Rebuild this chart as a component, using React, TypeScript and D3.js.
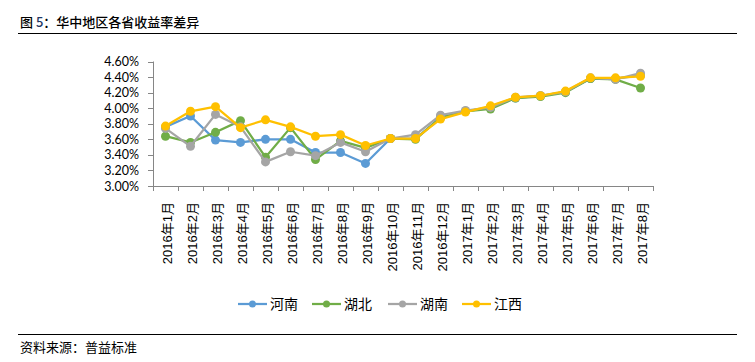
import React from "react";
import * as d3 from "d3";

const categories = [
  "2016年1月","2016年2月","2016年3月","2016年4月","2016年5月","2016年6月","2016年7月","2016年8月","2016年9月","2016年10月",
  "2016年11月","2016年12月","2017年1月","2017年2月","2017年3月","2017年4月","2017年5月","2017年6月","2017年7月","2017年8月",
];
const henan = [3.76,3.90,3.59,3.56,3.60,3.60,3.43,3.43,3.29,3.61,3.61,3.88,3.96,4.01,4.13,4.16,4.21,4.38,4.38,4.42];
const hubei = [3.64,3.56,3.69,3.84,3.37,3.75,3.34,3.58,3.49,3.61,3.60,3.88,3.96,3.99,4.13,4.15,4.20,4.38,4.37,4.26];
const hunan = [3.74,3.51,3.92,3.76,3.31,3.44,3.39,3.56,3.44,3.61,3.66,3.91,3.97,4.01,4.14,4.16,4.21,4.39,4.37,4.45];
const jiangxi = [3.77,3.96,4.02,3.75,3.85,3.76,3.64,3.66,3.52,3.61,3.61,3.86,3.95,4.03,4.14,4.16,4.22,4.39,4.39,4.41];
const yTicks = [3.0,3.2,3.4,3.6,3.8,4.0,4.2,4.4,4.6];

const seriesList = [
  { name: "河南", values: henan, color: "#5B9BD5" },
  { name: "湖北", values: hubei, color: "#70AD47" },
  { name: "湖南", values: hunan, color: "#A5A5A5" },
  { name: "江西", values: jiangxi, color: "#FFC000" },
];

const W = 755, H = 362;
const plotL = 153, plotR = 653, plotT = 61.5, plotB = 186;
const numFont = "Lato, 'Liberation Sans', sans-serif";
const cjkFont = "'Noto Sans CJK SC', sans-serif";
const labelFont = "'Liberation Sans', 'Noto Sans CJK SC', sans-serif";

export default function App() {
  const x = d3.scaleBand<string>().domain(categories).range([plotL, plotR]);
  const y = d3.scaleLinear().domain([3.0, 4.6]).range([plotB, plotT]);
  const line = d3.line<number>().x((_, i) => (x(categories[i]) as number) + x.bandwidth() / 2).y((d) => y(d));
  const axisColor = "#868686";
  const legendX = [238, 312, 388, 462];
  return (
    <svg width={W} height={H} style={{ position: "absolute", left: 0, top: 0, background: "#fff" }}>
      <text x={20} y={27} fontFamily={cjkFont} fontSize={13} fill="#000" fontWeight={500}>
        图 <tspan fill="#1f3864">5</tspan>：华中地区各省收益率差异
      </text>
      <line x1={18} x2={737} y1={33.5} y2={33.5} stroke="#000" strokeWidth={1} />
      {/* y axis */}
      <line x1={plotL + 0.5} x2={plotL + 0.5} y1={plotT} y2={plotB} stroke={axisColor} />
      {yTicks.map((t) => (
        <g key={t}>
          <line x1={plotL - 5} x2={plotL} y1={Math.round(y(t)) + 0.5} y2={Math.round(y(t)) + 0.5} stroke={axisColor} />
          <text x={139} y={y(t) + 4.5} textAnchor="end" fontFamily={numFont} fontSize={12.5} fill="#000">
            {t.toFixed(2)}%
          </text>
        </g>
      ))}
      {/* x axis */}
      <line x1={plotL} x2={plotR} y1={plotB + 0.5} y2={plotB + 0.5} stroke={axisColor} />
      {categories.map((c, i) => {
        const tx = Math.round((x(c) as number) + x.bandwidth()) + 0.5;
        return <line key={"t" + i} x1={tx} x2={tx} y1={plotB} y2={plotB + 5} stroke={axisColor} />;
      })}
      <line x1={plotL + 0.5} x2={plotL + 0.5} y1={plotB} y2={plotB + 5} stroke={axisColor} />
      {categories.map((c, i) => {
        const cx = (x(c) as number) + x.bandwidth() / 2;
        return (
          <text key={"l" + i} transform={`translate(${cx + 6.5},${plotB + 16}) rotate(-90)`} textAnchor="end"
            fontFamily={labelFont} fontSize={13} fill="#000">
            {c}
          </text>
        );
      })}
      {seriesList.map((s) => (
        <g key={s.name}>
          <path d={line(s.values) || ""} fill="none" stroke={s.color} strokeWidth={2.25} strokeLinejoin="round" />
          {s.values.map((v, i) => (
            <circle key={i} cx={(x(categories[i]) as number) + x.bandwidth() / 2} cy={y(v)} r={4.5} fill={s.color} />
          ))}
        </g>
      ))}
      {/* legend */}
      {seriesList.map((s, i) => (
        <g key={"lg" + i}>
          <line x1={legendX[i]} x2={legendX[i] + 29} y1={304} y2={304} stroke={s.color} strokeWidth={2.25} />
          <circle cx={legendX[i] + 14.5} cy={304} r={3.5} fill={s.color} />
          <text x={legendX[i] + 32} y={309} fontFamily={cjkFont} fontSize={14} fill="#000">{s.name}</text>
        </g>
      ))}
      <line x1={18} x2={737} y1={334.5} y2={334.5} stroke="#000" strokeWidth={1} />
      <text x={20} y={352} fontFamily={cjkFont} fontSize={13} fill="#000">资料来源：普益标准</text>
    </svg>
  );
}
